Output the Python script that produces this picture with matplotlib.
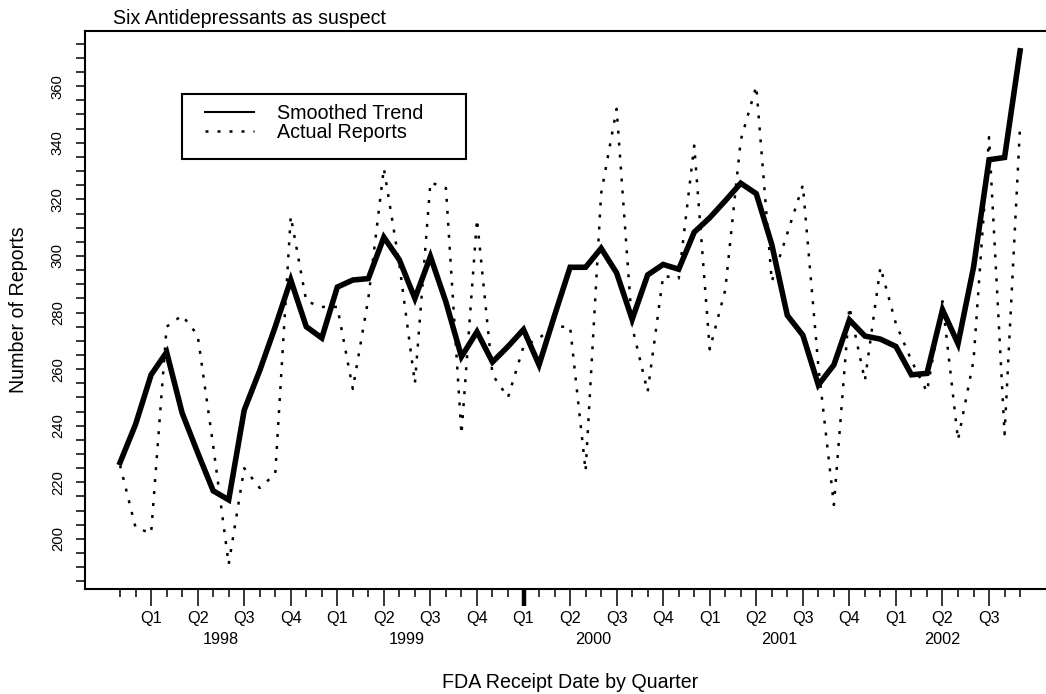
import numpy as np
import matplotlib
matplotlib.use('Agg')
import matplotlib.pyplot as plt
import matplotlib.patches as patches

plt.rcParams['font.family'] = ['Liberation Sans', 'DejaVu Sans']

# Monthly reports, Jan 1998 - Nov 2002
actual = [226, 204, 202, 275, 279, 272, 233, 191, 225, 218, 223, 314,
          284, 282, 282, 253, 285, 331, 297, 255, 326, 324, 237, 313,
          258, 250, 268, 271, 275, 275, 224, 322, 352, 275, 252, 293,
          292, 339, 267, 288, 341, 360, 291, 308, 325, 261, 212, 282,
          256, 296, 276, 263, 252, 284, 235, 263, 342, 237, 346]
smoothed = [227, 240.5, 258, 266, 244.5, 230.5, 217, 213.8, 245.5, 259.5, 275, 291.5,
            275, 271, 289, 291.5, 292, 306.6, 298.6, 285, 299.8, 283.7, 264.4, 273.2,
            262.5, 268, 274, 261.5, 279, 296, 296, 302.7, 294, 277.6, 293.3, 297,
            295.3, 308.4, 313.5, 319.5, 325.7, 322, 304, 279, 272, 254.4, 261.5, 277.4,
            271.7, 270.6, 268, 258, 258.5, 281, 269, 296, 334, 334.8, 372.5]
quarters = ['Q1', 'Q2', 'Q3', 'Q4'] * 4 + ['Q1', 'Q2', 'Q3']
years = ['1998', '1999', '2000', '2001', '2002']

W, H = 1046, 694
fig = plt.figure(figsize=(W / 100, H / 100), dpi=100)
ax = fig.add_axes([85 / W, 1 - 589 / H, 1 - 85 / W, 558 / H])

months = np.arange(len(actual))
q_pos = months[2::3]
dots = (0, (1.2, 3.6))

ax.plot(months, actual, color='black', lw=1.8, linestyle=dots,
        dash_capstyle='butt')
ax.plot(months, smoothed, color='black', lw=4, solid_joinstyle='miter')

ax.set_xlim(-2.26, 59.67)
ax.set_ylim(182.3, 379.5)

for side in ['top', 'left', 'bottom']:
    ax.spines[side].set_linewidth(1.5)
ax.spines['right'].set_visible(False)

# y axis
ax.set_yticks(np.arange(200, 361, 20))
ax.set_yticks(np.arange(185, 376, 5), minor=True)
ax.tick_params(axis='y', which='both', length=6.5, width=1.1, direction='out')
ax.tick_params(axis='y', which='major', labelsize=10.7, labelrotation=90, pad=8)
for lab in ax.get_yticklabels():
    lab.set_va('center')

# x axis
ax.set_xticks(q_pos, labels=quarters)
ax.set_xticks(months, minor=True)
ax.tick_params(axis='x', which='major', length=12, width=1.1, labelsize=11.7, pad=4)
ax.tick_params(axis='x', which='minor', length=6, width=1.1)
# heavier tick marking Q1 2000
ax.xaxis.get_major_ticks()[8].tick1line.set_markeredgewidth(3.2)

for k, yr in enumerate(years):
    pos = [p for p in q_pos if 12 * k <= p < 12 * (k + 1)]
    ax.annotate(yr, xy=(np.mean(pos), 0), xycoords=('data', 'axes fraction'),
                xytext=(0, -36.7), textcoords='offset points',
                ha='center', va='center', fontsize=11.7)

fig.text(570.5 / W, 1 - 682 / H, 'FDA Receipt Date by Quarter',
         ha='center', va='center', fontsize=14.1)
fig.text(19 / W, 1 - 310 / H, 'Number of Reports', rotation=90,
         ha='center', va='center', fontsize=14.1)
fig.text(112.7 / W, 1 - 19 / H, 'Six Antidepressants as suspect',
         ha='left', va='center', fontsize=14.1)

# legend
h1 = plt.Line2D([], [], color='black', lw=1.5)
h2 = plt.Line2D([], [], color='black', lw=1.8, linestyle=dots)
ax.legend([h1, h2], ['Smoothed Trend', 'Actual Reports'], loc='upper left',
          bbox_to_anchor=(205 / W, 1 - 104 / H), bbox_transform=fig.transFigure,
          frameon=False, borderpad=0, borderaxespad=0, handlelength=2.49,
          handletextpad=1.15, labelspacing=0, fontsize=14.2)
fig.add_artist(patches.Rectangle((182 / W, 1 - 159.3 / H), 284 / W, 65.3 / H,
                                 transform=fig.transFigure, fill=False,
                                 lw=1.5, ec='black'))

fig.savefig('out.png', dpi=100)
